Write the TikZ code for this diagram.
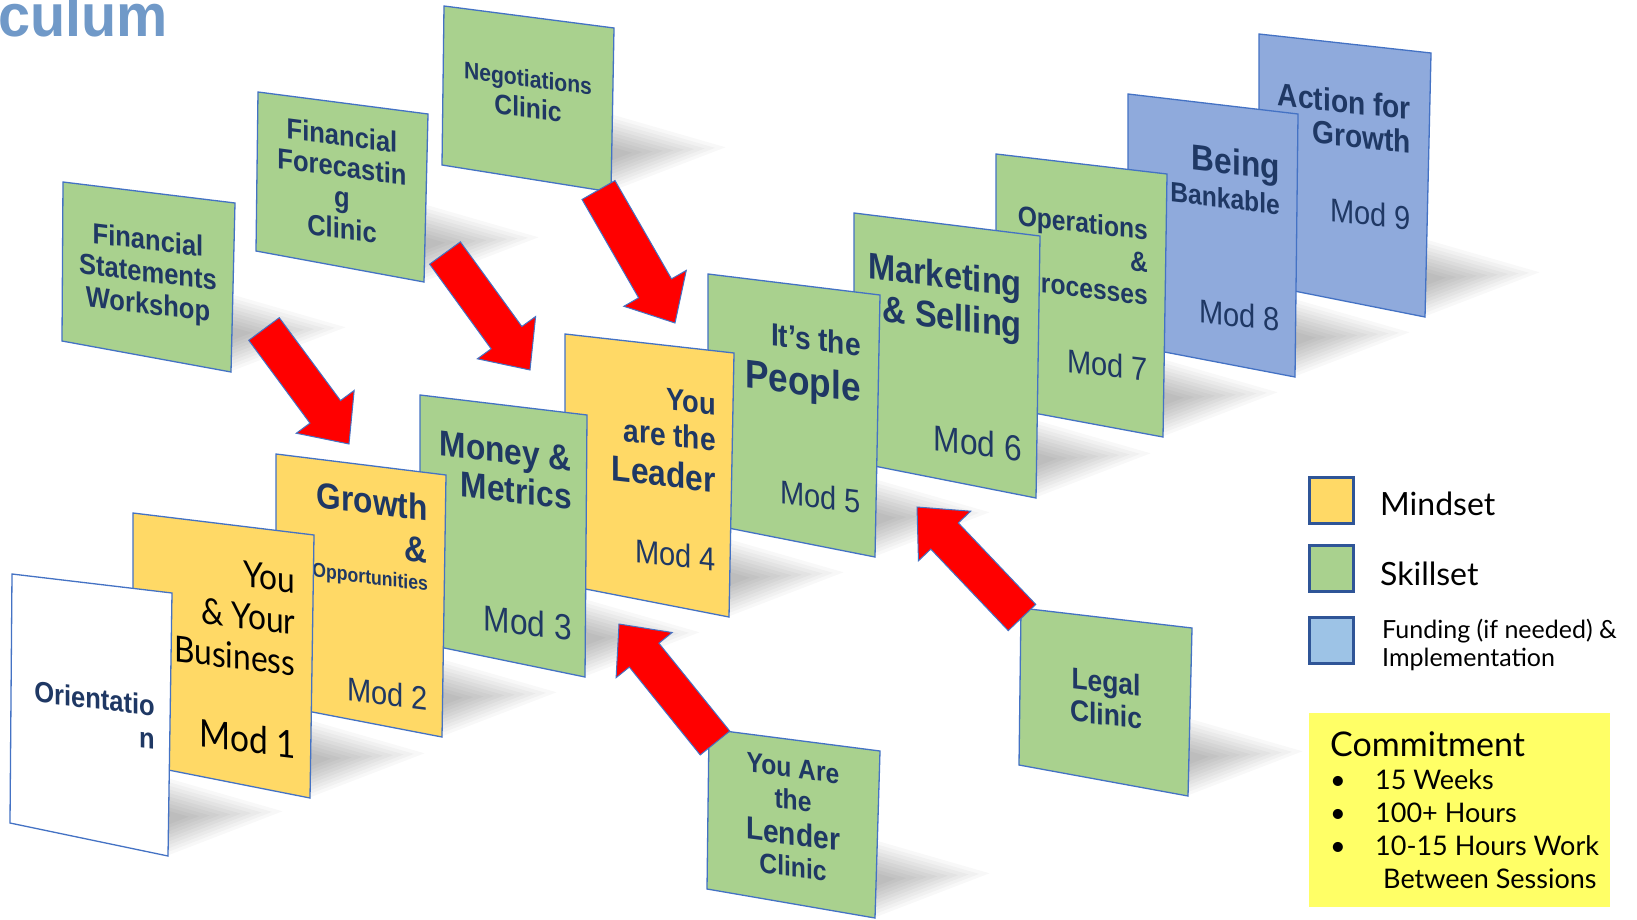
\documentclass[tikz,border=0pt]{standalone}
\usepackage{fontspec}
\setmainfont{Liberation Sans}
\newfontfamily\latofont{Lato}
\usepackage{tikz}
\usetikzlibrary{
  calc,
  shapes.arrows}

\definecolor{mindset}{HTML}{FFD966}
\definecolor{skillset}{HTML}{A9D18E}
\definecolor{funding}{HTML}{8FAADC}
\definecolor{legendblue}{HTML}{9DC3E6}
\definecolor{cardedge}{HTML}{4472C4}
\definecolor{legendedge}{HTML}{2F5597}
\definecolor{navy}{HTML}{1F3864}
\definecolor{titleblue}{HTML}{7099C8}
\definecolor{commit}{HTML}{FFFF66}

\newcommand\fsz[2]{\fontsize{#1}{#2}\selectfont}
\newcommand\setcard[5]{%
  \coordinate (#1-tl) at (#2);
  \coordinate (#1-tr) at (#3);
  \coordinate (#1-br) at (#4);
  \coordinate (#1-bl) at (#5);}
\newcommand\cardshadow[1]{%
  \path (#1-br) ++(-2,-38) coordinate (#1-sc) (#1-br) ++(-2,-74) coordinate (#1-s1)
    (#1-br) ++(102,-44) coordinate (#1-s2) (#1-br) ++(-2,-4) coordinate (#1-s3);
  \foreach \s in {1.12,1.02,.92,.82,.72,.62,.52,.42,.32,.22}
    \fill[floor shadow] ($(#1-sc)!\s!(#1-s1)$) -- ($(#1-sc)!\s!(#1-s2)$) -- ($(#1-sc)!\s!(#1-s3)$) -- cycle;}
\newcommand\drawcard[2]{%
  \draw[card, fill=#2] (#1-tl) -- (#1-tr) -- (#1-br) -- (#1-bl) -- cycle;}
\newcommand\fatarrow[3]{%
  \path let \p1=($(#3)-(#2)$), \n1={atan2(\y1,\x1)}, \n2={veclen(\x1,\y1)} in
    (#2) node[fat arrow, rotate=\n1, minimum height=\n2] (#1) {};}

\begin{document}
\begin{tikzpicture}[x=1pt,y=-1pt]
\tikzset{
  card/.style={draw=cardedge, line width=1.3pt},
  floor shadow/.style={black, opacity=.028, line join=round},
  clinic text/.style={transform shape, xscale=.88, inner sep=0pt, text=navy, align=center, font=\bfseries\fsz{29}{32}},
  title text/.style={transform shape, xscale=.88, inner sep=0pt, text=navy, align=right, anchor=north east},
  mod number/.style={transform shape, xscale=.88, inner sep=0pt, text=navy, anchor=east, font=\fsz{33}{33}},
  fat arrow/.style={single arrow, anchor=tail, fill=red, draw=cardedge, line width=1pt, inner xsep=0pt, inner ysep=18.5pt, outer sep=0pt, single arrow head extend=17pt, single arrow tip angle=84},
  legend box/.style={draw=legendedge, line width=3pt, minimum width=44pt, minimum height=46pt, inner sep=0pt},
  legend text/.style={anchor=west, inner sep=0pt, font=\latofont\fsz{32}{32}}
}
\useasboundingbox (0,0) rectangle (1637,920);
\fill[white] (0,0) rectangle (1637,920);
\clip (0,0) rectangle (1637,920);

\node[anchor=base west, inner sep=0pt, xscale=.96, text=titleblue, font=\bfseries\fsz{60}{60}] (title) at (-2,37) {culum};

\setcard{neg}{444,6}{614,28}{611,192}{442,165}
\setcard{ffc}{258,92}{428,114}{424,282}{256,251}
\setcard{fsw}{63,182}{235,203}{231,372}{62,341}
\setcard{ori}{12,574}{172,593}{168,856}{10,823}
\setcard{m1}{133,513}{314,535}{310,798}{133,763}
\setcard{m2}{276,454}{446,475}{442,737}{276,705}
\setcard{m3}{420,395}{587,415}{585,677}{420,643}
\setcard{m4}{565,334}{734,353}{729,617}{565,585}
\setcard{m5}{708,274}{880,295}{875,557}{708,524}
\setcard{m6}{854,213}{1040,236}{1036,498}{854,462}
\setcard{m7}{996,154}{1167,174}{1163,437}{996,406}
\setcard{m8}{1128,94}{1298,114}{1295,377}{1128,345}
\setcard{m9}{1259,34}{1431,53}{1425,317}{1259,284}
\setcard{lender}{709,729}{880,751}{875,918}{707,889}
\setcard{legal}{1021,608}{1192,628}{1188,796}{1019,765}

\foreach \c in {neg,ffc,fsw,m9,m8,m7,m6,m5,m4,m3,m2,m1,ori,legal,lender} {\cardshadow{\c}}

\drawcard{neg}{skillset}
\begin{scope}[cm={1,-.129,0,1,(neg-tl)}]
  \node[clinic text, font=\bfseries\fsz{28}{31}] (neg title) at (84,77) {{\fsz{24}{24}Negotiations}\\Clinic};
\end{scope}
\drawcard{ffc}{skillset}
\begin{scope}[cm={1,-.129,0,1,(ffc-tl)}]
  \node[clinic text, font=\bfseries\fsz{29}{31}] (ffc title) at (84,79) {Financial\\Forecastin\\g\\Clinic};
\end{scope}
\drawcard{fsw}{skillset}
\begin{scope}[cm={1,-.122,0,1,(fsw-tl)}]
  \node[clinic text] (fsw title) at (85,82) {Financial\\Statements\\Workshop};
\end{scope}

\drawcard{m9}{funding}
\begin{scope}[cm={1,-.11,0,1,(m9-tl)}]
  \node[title text, font=\bfseries\fsz{32}{33.4}] (m9 title) at (152,46) {Action for\\Growth};
  \node[mod number] (m9 mod) at (152,167.5) {Mod 9};
\end{scope}
\drawcard{m8}{funding}
\begin{scope}[cm={1,-.118,0,1,(m8-tl)}]
  \node[title text, font=\bfseries\fsz{36}{40}] (m8 title) at (152,42) {Being\\[-5.4pt]{\fsz{28}{28}Bankable}};
  \node[mod number] (m8 mod) at (152,208) {Mod 8};
\end{scope}
\drawcard{m7}{skillset}
\begin{scope}[cm={1,-.117,0,1,(m7-tl)}]
  \node[title text, font=\bfseries\fsz{28}{32.5}] (m7 title) at (152,48) {Operations\\\&\\Processes};
  \node[mod number] (m7 mod) at (152,198) {Mod 7};
\end{scope}
\drawcard{m6}{skillset}
\begin{scope}[cm={1,-.124,0,1,(m6-tl)}]
  \node[title text, font=\bfseries\fsz{37}{41}] (m6 title) at (168,36.5) {Marketing\\\& Selling};
  \node[mod number, font=\fsz{36}{36}] (m6 mod) at (168,214.7) {Mod 6};
\end{scope}
\drawcard{m5}{skillset}
\begin{scope}[cm={1,-.122,0,1,(m5-tl)}]
  \node[title text, font=\bfseries\fsz{32}{46}] (m5 title) at (153,40) {It’s the\\{\fsz{40}{40}People}};
  \node[mod number] (m5 mod) at (153,209) {Mod 5};
\end{scope}
\drawcard{m4}{mindset}
\begin{scope}[cm={1,-.112,0,1,(m4-tl)}]
  \node[title text, font=\bfseries\fsz{32}{36}] (m4 title) at (151,43) {{\fsz{31}{31}You}\\are the\\[5pt]{\fsz{36}{36}Leader}};
  \node[mod number] (m4 mod) at (151,208.6) {Mod 4};
\end{scope}
\drawcard{m3}{skillset}
\begin{scope}[cm={1,-.12,0,1,(m3-tl)}]
  \node[title text, font=\bfseries\fsz{36}{38.5}] (m3 title) at (152,33) {Money \&\\Metrics};
  \node[mod number, font=\fsz{36}{36}] (m3 mod) at (152,215) {Mod 3};
\end{scope}
\drawcard{m2}{mindset}
\begin{scope}[cm={1,-.1235,0,1,(m2-tl)}]
  \node[title text, font=\bfseries\fsz{36}{42}] (m2 title) at (152,22) {Growth\\\&\\[-14pt]{\fsz{20}{20}Opportunities}};
  \node[mod number] (m2 mod) at (152,226) {Mod 2};
\end{scope}
\drawcard{m1}{mindset}
\begin{scope}[cm={1,-.1215,0,1,(m1-tl)}]
  \node[title text, text=black, font=\latofont\fsz{36}{41.5}] (m1 title) at (162.5,34.5) {You\\\& Your\\Business};
  \node[mod number, text=black, font=\latofont\fsz{38}{38}] (m1 mod) at (163,212) {Mod 1};
\end{scope}
\drawcard{ori}{white}
\begin{scope}[cm={1,-.119,0,1,(ori-tl)}]
  \node[title text, font=\bfseries\fsz{29}{33}] (ori title) at (143,104) {Orientatio\\n};
\end{scope}

\drawcard{legal}{skillset}
\begin{scope}[cm={1,-.117,0,1,(legal-tl)}]
  \node[clinic text, font=\bfseries\fsz{30}{33}] (legal title) at (85,80) {Legal\\Clinic};
\end{scope}
\drawcard{lender}{skillset}
\begin{scope}[cm={1,-.129,0,1,(lender-tl)}]
  \node[clinic text, font=\bfseries\fsz{28}{32}] (lender title) at (84,78) {You Are\\the\\[3pt]{\fsz{32}{32}Lender}\\Clinic};
\end{scope}

\coordinate (fsw out) at (264,329);
\coordinate (m2 in) at (349,444);
\coordinate (ffc out) at (445,253);
\coordinate (m3 in) at (530,370);
\coordinate (neg out) at (598.5,190);
\coordinate (m4 in) at (675,323);
\coordinate (lender out) at (715,743);
\coordinate (m4 below) at (619,624);
\coordinate (legal out) at (1022,617.5);
\coordinate (m6 below) at (917,507);
\fatarrow{fsw arrow}{fsw out}{m2 in}
\fatarrow{ffc arrow}{ffc out}{m3 in}
\fatarrow{neg arrow}{neg out}{m4 in}
\fatarrow{lender arrow}{lender out}{m4 below}
\fatarrow{legal arrow}{legal out}{m6 below}

\node[legend box, fill=mindset] (mindset box) at (1331.5,500.5) {};
\node[legend text] (mindset label) at (1380,504) {Mindset};
\node[legend box, fill=skillset] (skillset box) at (1331.5,568.5) {};
\node[legend text] (skillset label) at (1380,574) {Skillset};
\node[legend box, fill=legendblue] (funding box) at (1331.5,640) {};
\node[legend text, font=\latofont\fsz{25}{28}, align=left] (funding label) at (1382,645) {Funding (if needed) \&\\Implementation};

\node[fill=commit, minimum width=301pt, minimum height=194pt, anchor=north west, inner sep=0pt] (commit box) at (1309,713) {};
\node[anchor=north west, inner sep=0pt, align=left, font=\latofont\fsz{27}{33}] (commit text) at (1330,731) {{\fsz{34}{34}Commitment}\\\makebox[45pt][l]{•}15 Weeks\\\makebox[45pt][l]{•}100+ Hours\\\makebox[45pt][l]{•}10-15 Hours Work\\\hspace*{53pt}Between Sessions};
\end{tikzpicture}
\end{document}
